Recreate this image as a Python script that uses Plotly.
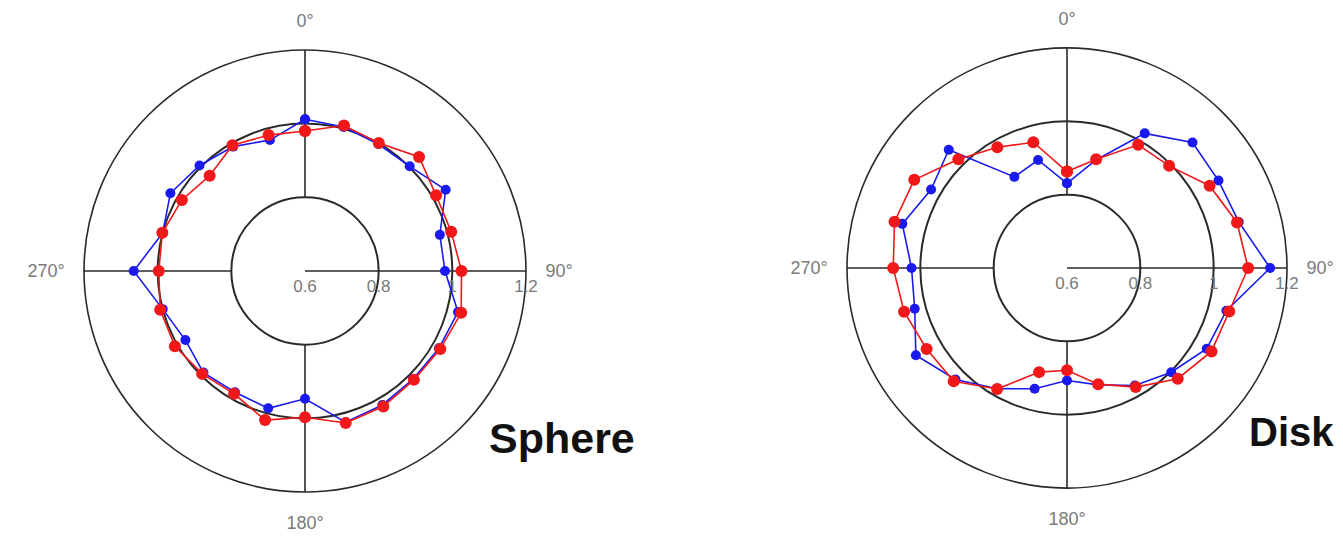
import plotly.graph_objects as go

# ---- data (angles in degrees, clockwise from top) ----
angles = [0, 15, 30, 45, 60, 75, 90, 105, 120, 135, 150, 165,
          180, 195, 210, 225, 240, 255, 270, 285, 300, 315, 330, 345]

sphere_red = [0.980, 1.009, 1.001, 1.038, 1.011, 1.011, 1.025, 1.039, 1.024, 1.018, 1.025, 1.027,
              0.997, 1.019, 0.985, 0.995, 1.008, 1.007, 0.997, 1.001, 0.986, 0.966, 0.994, 0.982]
sphere_blue = [1.012, 1.005, 0.998, 1.002, 1.041, 0.979, 0.980, 1.030, 1.020, 1.015, 1.020, 1.025,
               0.947, 0.986, 0.980, 0.990, 0.975, 1.000, 1.065, 1.000, 1.022, 1.005, 0.990, 0.968]

disk_red = [0.863, 0.907, 0.988, 0.994, 1.049, 1.080, 1.094, 1.058, 1.055, 1.027, 0.975, 0.928,
            0.879, 0.894, 0.981, 1.037, 1.042, 1.060, 1.074, 1.087, 1.081, 1.019, 0.980, 0.955]
disk_blue = [0.831, 0.905, 1.024, 1.084, 1.077, 1.085, 1.154, 1.050, 1.040, 1.002, 0.970, 0.930,
             0.907, 0.941, 0.980, 1.030, 1.076, 1.030, 1.024, 1.065, 1.028, 1.056, 0.887, 0.905]

radial_ticks = [0.6, 0.8, 1.0, 1.2]
radial_ticktext = ["0.6", "0.8", "1", "1.2"]
angular_ticks = [0, 90, 180, 270]
angular_ticktext = ["0°", "90°", "180°", "270°"]
spoke_angles = [0, 180, 270]
panel_labels = ["Sphere", "Disk"]

# the page body adds an 8px margin, so the figure is sized to end at the window edge
OFF = 8
W, H = 1343 - OFF, 536 - OFF
GRID = "#2a2a2a"
LABEL = "#7a7a7a"

fig = go.Figure()


def closed(a):
    return list(a) + [a[0]]


for sub, (red, blue) in zip(["polar", "polar2"], [(sphere_red, sphere_blue), (disk_red, disk_blue)]):
    # spokes from the 0.8 ring to the outer ring
    for t in spoke_angles:
        fig.add_trace(go.Scatterpolar(r=[radial_ticks[1], radial_ticks[-1]], theta=[t, t], mode="lines",
                                      line=dict(color=GRID, width=1.6), subplot=sub,
                                      showlegend=False, hoverinfo="skip"))
    fig.add_trace(go.Scatterpolar(r=closed(blue), theta=closed(angles), mode="lines+markers",
                                  line=dict(color="#1a1aee", width=1.6),
                                  marker=dict(color="#1a1aee", size=10),
                                  subplot=sub, showlegend=False))
    fig.add_trace(go.Scatterpolar(r=closed(red), theta=closed(angles), mode="lines+markers",
                                  line=dict(color="#f01818", width=1.6),
                                  marker=dict(color="#f01818", size=12),
                                  subplot=sub, showlegend=False))


def polar_layout(px, py, R):
    cx, cy = px - OFF, py - OFF
    return dict(
        domain=dict(x=[(cx - R) / W, (cx + R) / W], y=[(H - cy - R) / H, (H - cy + R) / H]),
        bgcolor="white",
        radialaxis=dict(range=[0.6, 1.2], tickvals=radial_ticks, ticktext=radial_ticktext,
                        showgrid=True, gridcolor=GRID, gridwidth=1.6,
                        showline=True, linecolor=GRID, linewidth=1.6,
                        ticks="", angle=0, tickangle=0, layer="below traces",
                        tickfont=dict(family="Liberation Sans, Arial", size=17, color=LABEL)),
        angularaxis=dict(rotation=90, direction="clockwise", tickvals=angular_ticks,
                         ticktext=angular_ticktext, showgrid=False, showline=True,
                         linecolor=GRID, linewidth=1.6,
                         ticks="outside", ticklen=15, tickcolor="rgba(0,0,0,0)",
                         layer="below traces",
                         tickfont=dict(family="Liberation Sans, Arial", size=18, color=LABEL)),
    )


fig.update_layout(
    width=W, height=H,
    margin=dict(l=0, r=0, t=0, b=0),
    paper_bgcolor="white",
    polar=polar_layout(305, 271, 221),
    polar2=polar_layout(1067, 268, 220),
    showlegend=False,
    annotations=[
        dict(text="<b>%s</b>" % panel_labels[0], x=479 / W, y=1 - 430 / H, xref="paper", yref="paper",
             xanchor="left", yanchor="middle", showarrow=False,
             font=dict(family="Liberation Sans, Arial", size=43, color="#111")),
        dict(text="<b>%s</b>" % panel_labels[1], x=1239 / W, y=1 - 424 / H, xref="paper", yref="paper",
             xanchor="left", yanchor="middle", showarrow=False,
             font=dict(family="Liberation Sans, Arial", size=40, color="#111")),
    ],
)

fig.write_html("out.html")
